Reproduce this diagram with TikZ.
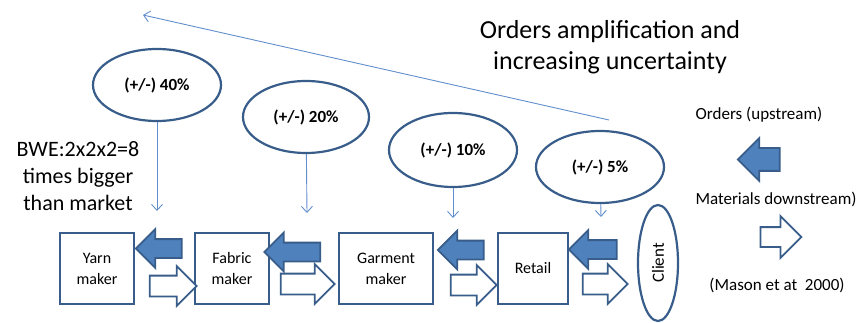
\documentclass[tikz,border=0pt]{standalone}
\usepackage{fontspec}
\setmainfont{Carlito}
\usepackage{tikz}
\usetikzlibrary{shapes.geometric, shapes.arrows, arrows.meta}
\definecolor{edge}{RGB}{56, 93, 138}
\definecolor{bluefill}{RGB}{79, 129, 189}
\definecolor{thin}{RGB}{98, 142, 204}
\newcommand*{\bh}{71}

\begin{document}
\begin{tikzpicture}[
   x=1pt, y=-1pt,
   stage/.style={rectangle, draw=edge, fill=white, line width=2, text=black, align=center,
                 font=\fontsize{16}{21}\selectfont, inner sep=0, minimum height=\bh},
   spread/.style={ellipse, draw=edge, line width=2.2, text=black, inner sep=0,
                  font=\bfseries\fontsize{17}{20}\selectfont, minimum width=128, minimum height=72},
   client/.style={ellipse, draw=edge, line width=2.2, text=black, inner sep=0, rotate=90,
                  font=\fontsize{17}{20}\selectfont, minimum width=116, minimum height=40},
   ordarrow/.style={single arrow, shape border rotate=180, draw=edge, fill=bluefill, line width=1.8,
                    inner xsep=0, inner ysep=8.5, single arrow head extend=10},
   matarrow/.style={single arrow, draw=edge, fill=white, line width=1.8,
                    inner xsep=0, inner ysep=9.5, single arrow head extend=9.5},
   flow/.style={-{Straight Barb[length=6pt, width=11pt]}, color=thin, line width=0.9},
   note/.style={align=center, text=black, font=\fontsize{17}{20}\selectfont}
  ]

  \useasboundingbox (0, 0) rectangle (859, 323);

  % Supply chain stages
  \node (yarn) at (97, 268.5) [stage, minimum width=74] {Yarn\\maker};
  \node (fabric) at (232, 268.5) [stage, minimum width=74] {Fabric\\maker};
  \node (garment) at (386, 268.5) [stage, minimum width=94] {Garment\\maker};
  \node (retail) at (533, 268.5) [stage, minimum width=70] {Retail};
  \node (client) at (658, 263) [client] {Client};

  % Demand variation per stage
  \node (v40) at (157, 85) [spread] {(+/-) 40\%};
  \node (v20) at (306, 117) [spread, minimum width=126] {(+/-) 20\%};
  \node (v10) at (453, 150) [spread, minimum height=74] {(+/-) 10\%};
  \node (v5) at (600, 167) [spread] {(+/-) 5\%};

  \coordinate (t40) at (157, 211);
  \coordinate (t20) at (307, 213);
  \coordinate (t10) at (453, 218);
  \coordinate (t5) at (601, 217);

  \foreach \B/\E in {v40/t40, v20/t20, v10/t10, v5/t5} {
    \draw[flow] (\B) -- (\E);
  }

  % Amplification arrow
  \coordinate (ampstart) at (609, 120);
  \coordinate (ampend) at (143, 15);
  \draw[flow] (ampstart) -- (ampend);

  % Orders going upstream, materials going downstream
  \foreach \n/\x/\y/\l in {o1/163.5/248.5/46, o2/297/252/56, o3/465.5/250/46, o4/597.5/249.5/48} {
    \node (\n) at (\x, \y) [ordarrow, minimum height=\l] {};
  }
  \foreach \n/\x/\y/\l in {m1/168/286/47, m2/302.5/284/54, m3/468.5/285/46, m4/600/284/45} {
    \node (\n) at (\x, \y) [matarrow, minimum height=\l] {};
  }

  % Texts
  \node (title) at (610, 47) [align=center, font=\fontsize{26}{31}\selectfont]
    {Orders amplification and\\increasing uncertainty};
  \node (bwe) at (78, 176) [align=center, font=\fontsize{22}{27}\selectfont]
    {BWE:2x2x2=8\\times bigger\\than market};

  % Legend
  \node (upl) at (759, 115) [note] {Orders (upstream)};
  \node (ol) at (764.5, 159.5) [ordarrow, inner ysep=10.5, single arrow head extend=10, minimum height=42] {};
  \node (downl) at (776, 199) [note] {Materials downstream)};
  \node (ml) at (776, 237) [matarrow, inner ysep=9, single arrow head extend=11, minimum height=41] {};
  \node (src) at (777, 285) [note] {(Mason et at \ 2000)};

\end{tikzpicture}
\end{document}
